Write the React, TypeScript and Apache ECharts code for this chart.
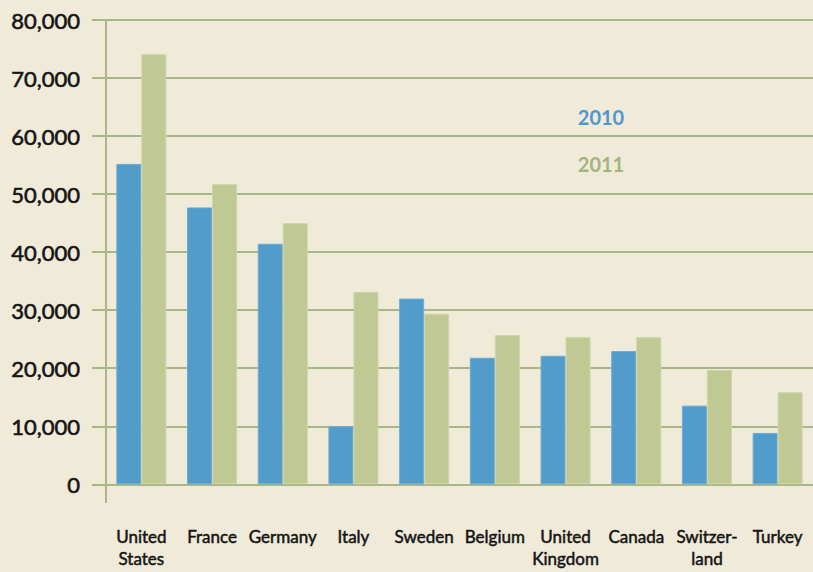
import React, { useEffect, useRef } from "react";
import * as echarts from "echarts";

const categories = [
  "United\nStates",
  "France",
  "Germany",
  "Italy",
  "Sweden",
  "Belgium",
  "United\nKingdom",
  "Canada",
  "Switzer-\nland",
  "Turkey",
];
const values2010 = [55200, 47700, 41450, 10000, 32000, 21800, 22150, 22950, 13550, 8850];
const values2011 = [74100, 51700, 45000, 33150, 29400, 25700, 25350, 25350, 19700, 15850];
const seriesNames = ["2010", "2011"];

const BG = "#f0ead9";
const GRID = "#a9b786";
const BLUE = "#529ccc";
const GREEN = "#c0c994";
const INK = "#151515";

export default function App() {
  const ref = useRef<HTMLDivElement>(null);
  useEffect(() => {
    if (!ref.current) return;
    const chart = echarts.init(ref.current, null, { renderer: "svg" });
    chart.setOption({
      animation: false,
      backgroundColor: BG,
      grid: { left: 106, top: 20, width: 712, height: 464.3 },
      xAxis: {
        type: "category",
        data: categories,
        axisLine: { show: true, lineStyle: { color: GRID, width: 2 } },
        axisTick: { show: false },
        axisLabel: {
          interval: 0,
          fontFamily: "Lato",
          fontSize: 17,
          lineHeight: 22,
          color: INK,
          textBorderColor: INK,
          textBorderWidth: 0.5,
          margin: 41,
        },
      },
      yAxis: {
        type: "value",
        min: 0,
        max: 80000,
        interval: 10000,
        axisLine: { show: true, lineStyle: { color: GRID, width: 2 } },
        axisTick: { show: true, length: 14, lineStyle: { color: GRID, width: 2 } },
        splitLine: { show: true, lineStyle: { color: GRID, width: 2 } },
        axisLabel: {
          fontFamily: "Lato",
          fontSize: 22,
          color: INK,
          textBorderColor: INK,
          textBorderWidth: 0.6,
          margin: 26,
          formatter: (v: number) => v.toLocaleString("en-US"),
        },
      },
      series: [
        {
          name: seriesNames[0],
          type: "bar",
          data: values2010,
          barWidth: 25,
          barGap: "0%",
          itemStyle: { color: BLUE, borderColor: "#6aaad4", borderWidth: 1 },
        },
        {
          name: seriesNames[1],
          type: "bar",
          data: values2011,
          barWidth: 25,
          itemStyle: { color: GREEN, borderColor: "#cdd4a8", borderWidth: 1 },
        },
      ],
      graphic: [
        {
          type: "line",
          shape: { x1: 106, y1: 484, x2: 106, y2: 503 },
          style: { stroke: GRID, lineWidth: 2 },
        },
        {
          type: "text",
          x: 601,
          y: 117,
          style: {
            text: seriesNames[0],
            fill: "#4f97d0",
            font: "bold 20px Lato",
            textAlign: "center",
            textVerticalAlign: "middle",
          },
        },
        {
          type: "text",
          x: 601,
          y: 164,
          style: {
            text: seriesNames[1],
            fill: "#a3b47c",
            font: "bold 20px Lato",
            textAlign: "center",
            textVerticalAlign: "middle",
          },
        },
      ],
    });
    return () => chart.dispose();
  }, []);
  return (
    <div
      ref={ref}
      style={{ position: "fixed", left: 0, top: 0, width: 813, height: 572 }}
    />
  );
}
